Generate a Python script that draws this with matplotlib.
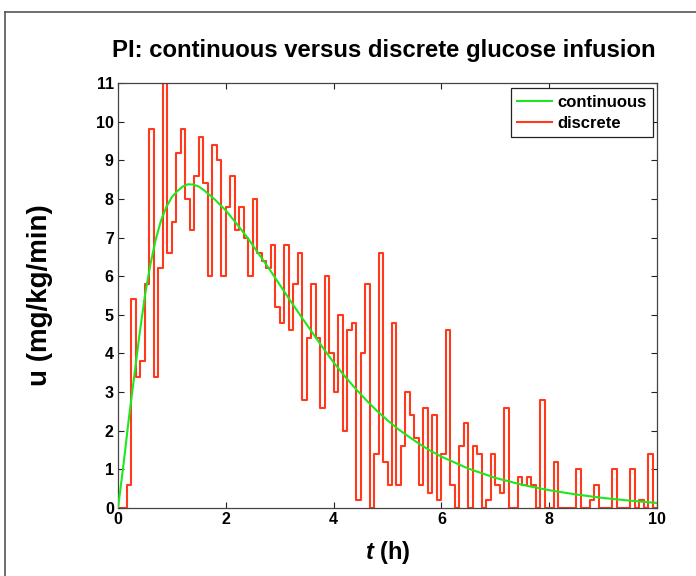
import numpy as np
import matplotlib
matplotlib.use("Agg")
import matplotlib.pyplot as plt
from matplotlib.lines import Line2D

plt.rcParams['font.family'] = ['Liberation Sans', 'DejaVu Sans']
plt.rcParams['font.weight'] = 'bold'
plt.rcParams['mathtext.fontset'] = 'custom'
plt.rcParams['mathtext.it'] = 'Liberation Sans:italic:bold'
plt.rcParams['mathtext.rm'] = 'Liberation Sans:bold'

# ---- data ----
step_hours = 1.0 / 12.0  # 5-minute infusion steps
discrete_u = [
    0, 0, 0.6, 5.4, 3.4, 3.8, 5.8, 9.8, 3.4, 6.2, 11, 6.6, 7.4, 9.2, 9.8, 8.0, 7.2, 8.6, 9.6, 8.4,
    6.0, 9.4, 9.0, 6.0, 7.8, 8.6, 7.2, 7.8, 7.0, 6.0, 8.0, 6.6, 6.4, 6.2, 6.8, 5.2, 4.8, 6.8, 4.6, 5.8,
    6.6, 2.8, 4.4, 5.8, 4.4, 2.6, 6.0, 4.0, 3.0, 5.0, 2.0, 4.6, 4.8, 0.2, 4.0, 5.8, 0, 1.4, 6.6, 1.2,
    0.6, 4.8, 0.6, 1.6, 3.0, 2.4, 1.8, 0.6, 2.6, 0.4, 2.4, 0.2, 1.4, 4.6, 0.6, 0, 1.6, 2.2, 0, 1.6,
    1.4, 0, 0.2, 1.4, 0.6, 0.4, 2.6, 0, 0, 0.8, 0.6, 0.8, 0.6, 0, 2.8, 0, 0, 1.2, 0, 0,
    0, 0, 1.0, 0, 0, 0.2, 0.6, 0, 0, 0, 1.0, 0, 0, 0, 1.0, 0, 0.2, 0, 1.4, 0,
]
continuous_t = [0, 0.1, 0.2, 0.3, 0.4, 0.5, 0.6, 0.7, 0.8, 0.9, 1.0, 1.1, 1.2, 1.3, 1.4, 1.5,
                1.6, 1.8, 2.0, 2.2, 2.4, 2.6, 2.8, 3.0, 3.2, 3.4, 3.6, 3.8, 4.0, 4.2, 4.4,
                4.6, 4.8, 5.0, 5.2, 5.4, 5.6, 5.8, 6.0, 6.5, 7.0, 7.5, 8.0, 8.5, 9.0, 9.5, 10.0]
continuous_u = [0, 1.1, 2.3, 3.4, 4.5, 5.5, 6.3, 6.95, 7.45, 7.8, 8.05, 8.2, 8.32, 8.38, 8.37, 8.32,
                8.22, 7.98, 7.7, 7.36, 7.0, 6.6, 6.2, 5.78, 5.36, 4.95, 4.55, 4.15, 3.77, 3.42, 3.1,
                2.8, 2.52, 2.27, 2.04, 1.84, 1.65, 1.48, 1.33, 1.02, 0.78, 0.6, 0.46, 0.35, 0.26, 0.19, 0.13]
x_ticks = [0, 2, 4, 6, 8, 10]
y_ticks = list(range(0, 12))

title = 'PI: continuous versus discrete glucose infusion'
series_labels = ['continuous', 'discrete']

W, H = 696, 576
fig = plt.figure(figsize=(W / 100, H / 100), dpi=100)
ax = fig.add_axes([118 / W, 1 - 508 / H, (657 - 118) / W, (508 - 83) / H])

green = '#1de81d'
red = '#ff3a1c'

ax.plot(continuous_t, continuous_u, color=green, lw=1.5, label=series_labels[0], zorder=3)
vals = np.asarray(discrete_u, dtype=float)
edges = np.arange(len(vals) + 1) * step_hours
ax.plot(edges, np.append(vals, vals[-1]), drawstyle='steps-post', color=red, lw=1.5,
        label=series_labels[1], zorder=2)

ax.set_xlim(0, 10)
ax.set_ylim(0, 11)
ax.set_xticks(x_ticks)
ax.set_yticks(y_ticks)
ax.tick_params(direction='in', length=4, width=0.8, top=True, right=True,
               labelsize=11.5, pad=3, colors='#222222', labelcolor='black')
for lab in ax.get_xticklabels() + ax.get_yticklabels():
    lab.set_fontweight('bold')
for sp in ax.spines.values():
    sp.set_color('#444444')
    sp.set_linewidth(0.9)

ax.text((384 - 118) / 539, (508 - 51) / 425, title, transform=ax.transAxes, ha='center',
        va='center', fontsize=17.2, fontweight='bold')

ax.set_xlabel(r'$t$ (h)', fontsize=17, fontweight='bold')
ax.xaxis.set_label_coords(0.5, -(553 - 508) / 425)
ax.xaxis.label.set_va('center')
ax.set_ylabel('u (mg/kg/min)', fontsize=20, fontweight='bold')
ax.yaxis.set_label_coords((40 - 118) / 539, 0.5)
ax.yaxis.label.set_va('center')

leg = ax.legend(loc='upper right', bbox_to_anchor=(0.993, 0.988), borderaxespad=0,
                fancybox=False, framealpha=1, edgecolor='#222222',
                prop={'size': 12, 'weight': 'bold'}, handlelength=2.1,
                handletextpad=0.3, labelspacing=0.35, borderpad=0.4)
leg.get_frame().set_linewidth(0.9)

# outer screenshot frame lines
fig.add_artist(Line2D([5 / W, 5 / W], [0, 1 - 12 / H], color='#555555', lw=1.2,
                      transform=fig.transFigure))
fig.add_artist(Line2D([5 / W, 1], [1 - 12 / H, 1 - 12 / H], color='#555555', lw=1.2,
                      transform=fig.transFigure))

fig.savefig('out.png', dpi=100)
